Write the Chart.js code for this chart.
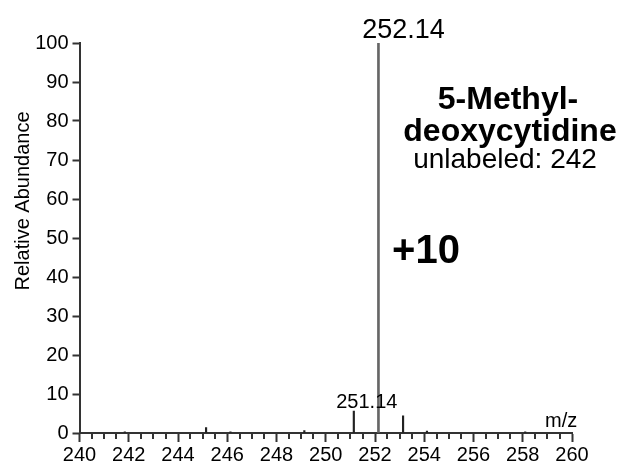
<!DOCTYPE html>
<html>
<head>
<meta charset="utf-8">
<script src="https://cdn.jsdelivr.net/npm/chart.js@4.4.1/dist/chart.umd.min.js"></script>
<style>
  html, body { margin: 0; padding: 0; background: #ffffff; }
  #wrap { width: 626px; height: 465px; position: relative; }
</style>
</head>
<body>
<div id="wrap"><canvas id="spectrum" width="626" height="465"></canvas></div>
<script>
// Mass spectrum of 5-methyl-deoxycytidine (+10 labeled)
const mzValues = [241.84, 245.14, 246.13, 249.13, 251.14, 253.14, 254.11, 258.10];
const abundanceValues = [0.3, 1.4, 0.3, 0.6, 5.6, 4.4, 0.5, 0.3];
const basePeakMz = [252.14];
const basePeakAbundance = [100];
const labeledPeaks = [251.14, 252.14];
const xTickLabels = [240, 242, 244, 246, 248, 250, 252, 254, 256, 258, 260];
const yTickLabels = [0, 10, 20, 30, 40, 50, 60, 70, 80, 90, 100];
const compoundName = ['5-Methyl-', 'deoxycytidine'];
const unlabeledNote = 'unlabeled: 242';
const labelShift = '+10';
const yAxisTitle = 'Relative Abundance';
const xAxisUnit = 'm/z';

const FONT = 'Arial, "Liberation Sans", Helvetica, sans-serif';
const AXIS_COLOR = '#333333';

const minorPeaks = mzValues.map((x, i) => ({ x, y: abundanceValues[i] }));
const basePeak = basePeakMz.map((x, i) => ({ x, y: basePeakAbundance[i] }));
const allPeaks = minorPeaks.concat(basePeak);

// minor ticks on the m/z axis and the text annotations
const annotate = {
  id: 'annotate',
  afterDraw(chart) {
    const ctx = chart.ctx;
    const xs = chart.scales.x;
    const ys = chart.scales.y;
    const y0 = ys.getPixelForValue(0);
    ctx.save();
    // minor ticks every 0.5 m/z
    ctx.strokeStyle = AXIS_COLOR;
    ctx.lineWidth = 2;
    for (let i = 0; i <= 40; i++) {
      if (i % 4 === 0) continue;
      const v = xs.min + i * 0.5;
      const px = Math.round(xs.getPixelForValue(v));
      ctx.beginPath();
      ctx.moveTo(px, y0);
      ctx.lineTo(px, y0 + 6);
      ctx.stroke();
    }
    // peak labels
    ctx.fillStyle = '#000000';
    ctx.textAlign = 'center';
    ctx.textBaseline = 'alphabetic';
    labeledPeaks.forEach(mz => {
      const peak = allPeaks.find(p => p.x === mz);
      const px = xs.getPixelForValue(peak.x);
      const py = ys.getPixelForValue(peak.y);
      if (peak.y >= 50) {
        ctx.font = '27px ' + FONT;
        ctx.fillText(mz.toFixed(2), px + 25, py - 5);
      } else {
        ctx.font = '20px ' + FONT;
        ctx.fillText(mz.toFixed(2), px + 13, py - 3);
      }
    });
    // compound annotation
    ctx.font = 'bold 32px ' + FONT;
    ctx.fillText(compoundName[0], 508, 109);
    ctx.fillText(compoundName[1], 510, 141);
    ctx.font = '28px ' + FONT;
    ctx.fillText(unlabeledNote, 505, 168);
    ctx.font = 'bold 40px ' + FONT;
    ctx.fillText(labelShift, 426, 263);
    // axis unit
    ctx.font = '20px ' + FONT;
    ctx.textAlign = 'left';
    ctx.fillText(xAxisUnit, 545, 427);
    // y axis title
    ctx.translate(23, 201);
    ctx.rotate(-Math.PI / 2);
    ctx.textAlign = 'center';
    ctx.textBaseline = 'middle';
    ctx.fillText(yAxisTitle, 0, 0);
    ctx.restore();
  }
};

new Chart(document.getElementById('spectrum'), {
  type: 'bar',
  data: {
    datasets: [
      {
        data: basePeak,
        backgroundColor: '#666666',
        barThickness: 2,
        grouped: false
      },
      {
        data: minorPeaks,
        backgroundColor: '#222222',
        barThickness: 1.5,
        grouped: false
      }
    ]
  },
  options: {
    responsive: false,
    animation: false,
    devicePixelRatio: 1,
    layout: { padding: { top: 43, right: 54, left: 0, bottom: 0 } },
    plugins: { legend: { display: false }, tooltip: { enabled: false } },
    scales: {
      x: {
        type: 'linear',
        min: 240,
        max: 260,
        offset: false,
        afterFit(scale) { scale.height = 32; },
        afterBuildTicks(scale) {
          scale.ticks = xTickLabels.map(v => ({ value: v }));
        },
        ticks: {
          autoSkip: false,
          maxRotation: 0,
          padding: 1,
          color: '#000000',
          font: { family: FONT, size: 20 },
          callback: v => String(v)
        },
        grid: {
          offset: false,
          drawOnChartArea: false,
          drawTicks: true,
          tickLength: 9,
          tickColor: AXIS_COLOR,
          tickWidth: 2
        },
        border: { display: true, color: AXIS_COLOR, width: 2 }
      },
      y: {
        min: 0,
        max: 100,
        afterFit(scale) { scale.width = 79.5; },
        afterBuildTicks(scale) {
          scale.ticks = yTickLabels.map(v => ({ value: v }));
        },
        ticks: {
          padding: 4,
          color: '#000000',
          font: { family: FONT, size: 20 }
        },
        grid: {
          drawOnChartArea: false,
          drawTicks: true,
          tickLength: 7,
          tickColor: AXIS_COLOR,
          tickWidth: 2
        },
        border: { display: true, color: AXIS_COLOR, width: 2 }
      }
    }
  },
  plugins: [annotate]
});
</script>
</body>
</html>
